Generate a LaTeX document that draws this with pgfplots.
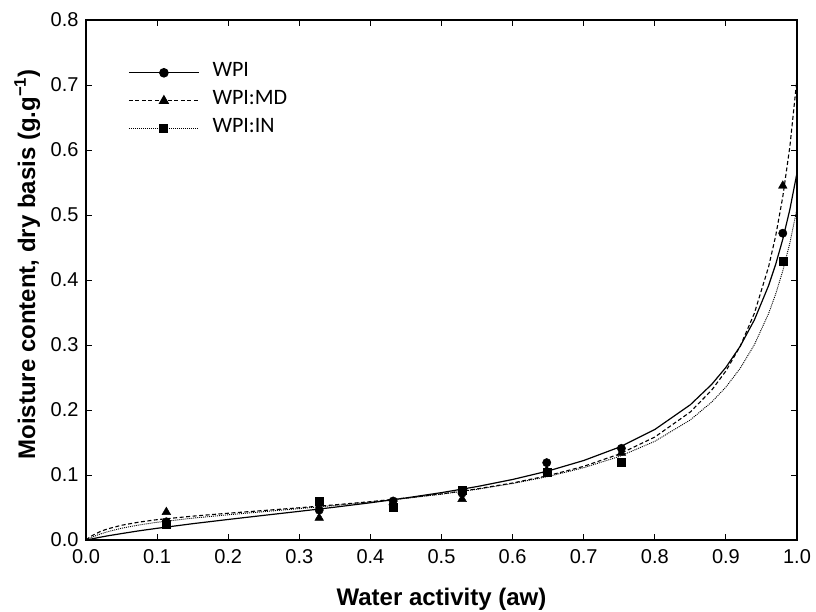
\documentclass[border=0pt]{standalone}
\usepackage{pgfplots}
\pgfplotsset{compat=1.18}
\usepackage{fontspec}
\setmainfont{Liberation Sans}
\newfontfamily\legfont{Carlito}

% Measured sorption data (aw, moisture content)
\pgfplotstableread{
aw     wpi    md     inl
0.113  0.028  0.043  0.025
0.328  0.046  0.034  0.060
0.432  0.060  0.058  0.051
0.529  0.072  0.063  0.077
0.648  0.119  0.107  0.104
0.753  0.141  0.134  0.120
0.980  0.472  0.545  0.429
}\measured

% Fitted isotherms
\pgfplotstableread{
aw     wpi     md      inl
0.000  0.0000  0.0000  0.0000
0.005  0.0010  0.0042  0.0027
0.010  0.0021  0.0076  0.0051
0.020  0.0043  0.0130  0.0092
0.030  0.0063  0.0170  0.0126
0.050  0.0099  0.0227  0.0181
0.075  0.0142  0.0276  0.0232
0.100  0.0180  0.0313  0.0273
0.150  0.0251  0.0367  0.0336
0.200  0.0316  0.0412  0.0388
0.250  0.0379  0.0454  0.0436
0.300  0.0441  0.0496  0.0483
0.350  0.0505  0.0541  0.0531
0.400  0.0573  0.0590  0.0583
0.450  0.0647  0.0646  0.0640
0.500  0.0729  0.0710  0.0705
0.550  0.0822  0.0786  0.0780
0.600  0.0931  0.0877  0.0869
0.650  0.1062  0.0990  0.0977
0.700  0.1223  0.1133  0.1112
0.750  0.1428  0.1322  0.1285
0.800  0.1700  0.1584  0.1518
0.850  0.2081  0.1970  0.1848
0.880  0.2394  0.2306  0.2122
0.900  0.2656  0.2600  0.2353
0.920  0.2979  0.2979  0.2640
0.940  0.3385  0.3487  0.3004
0.960  0.3913  0.4201  0.3483
0.970  0.4241  0.4679  0.3784
0.980  0.4627  0.5280  0.4141
0.990  0.5088  0.6056  0.4571
1.000  0.5648  0.7100  0.5100
}\fitted

\begin{document}
\begin{tikzpicture}
\begin{axis}[
  scale only axis,
  width=711pt, height=520pt,
  xmin=0, xmax=1, ymin=0, ymax=0.8,
  xtick={0,0.1,...,1.0}, ytick={0,0.1,...,0.8},
  tick align=inside,
  major tick length=6pt,
  axis line style={line width=1.2pt},
  every tick/.style={line width=1pt, black},
  /pgf/number format/assume math mode=true,
  /pgf/number format/.cd, fixed, fixed zerofill, precision=1, /pgfplots/.cd,
  tick label style={font=\fontsize{20}{24}\selectfont},
  xticklabel style={yshift=-6pt},
  yticklabel style={xshift=-4pt},
  xlabel={\textbf{Water activity (aw)}},
  ylabel={\textbf{Moisture content, dry basis (g.g\textsuperscript{−1})}},
  label style={font=\fontsize{24}{28}\selectfont},
  xlabel style={at={(axis description cs:0.5,-0.125)}, anchor=base},
  ylabel style={at={(axis description cs:-0.0717,0.53)}, anchor=base},
  legend style={at={(axis description cs:0.055,0.92)}, anchor=north west,
    draw=none, fill=none,
    row sep=10pt, column sep=11pt,
    nodes={inner sep=2pt, text height=11pt, text depth=3pt,
      font=\legfont\fontsize{22}{26}\selectfont}},
  legend cell align=left,
  legend image code/.code={
    \draw[mark repeat=2, mark phase=2] plot coordinates {(0pt,0pt) (35pt,0pt) (70pt,0pt)};
  },
  clip=true,
]
% fitted curves
\addplot[black, line width=1.2pt, no marks, forget plot] table[x=aw, y=wpi] {\fitted};
\addplot[black, line width=1.1pt, dash pattern=on 4pt off 2.5pt, no marks, forget plot] table[x=aw, y=md] {\fitted};
\addplot[black, line width=0.9pt, dash pattern=on 1pt off 1pt, no marks, forget plot] table[x=aw, y=inl] {\fitted};
% measured points
\addplot[only marks, mark=*, mark size=4.2pt, black, forget plot] table[x=aw, y=wpi] {\measured};
\addplot[only marks, mark=triangle*, mark size=5pt, black, forget plot] table[x=aw, y=md] {\measured};
\addplot[only marks, mark=square*, mark size=4pt, black, forget plot] table[x=aw, y=inl] {\measured};
% legend entries
\addlegendimage{black, line width=1.2pt, mark=*, mark size=4.2pt, mark options={solid}}
\addlegendentry{WPI}
\addlegendimage{black, line width=1.1pt, dash pattern=on 4pt off 2.5pt, mark=triangle*, mark size=5pt, mark options={solid}}
\addlegendentry{WPI:MD}
\addlegendimage{black, line width=0.9pt, dash pattern=on 1pt off 1pt, mark=square*, mark size=4pt, mark options={solid}}
\addlegendentry{WPI:IN}
\end{axis}
\pgfresetboundingbox
\path (current axis.south west) ++(-86pt,-71pt) rectangle ++(816pt,611pt);
\end{tikzpicture}
\end{document}
